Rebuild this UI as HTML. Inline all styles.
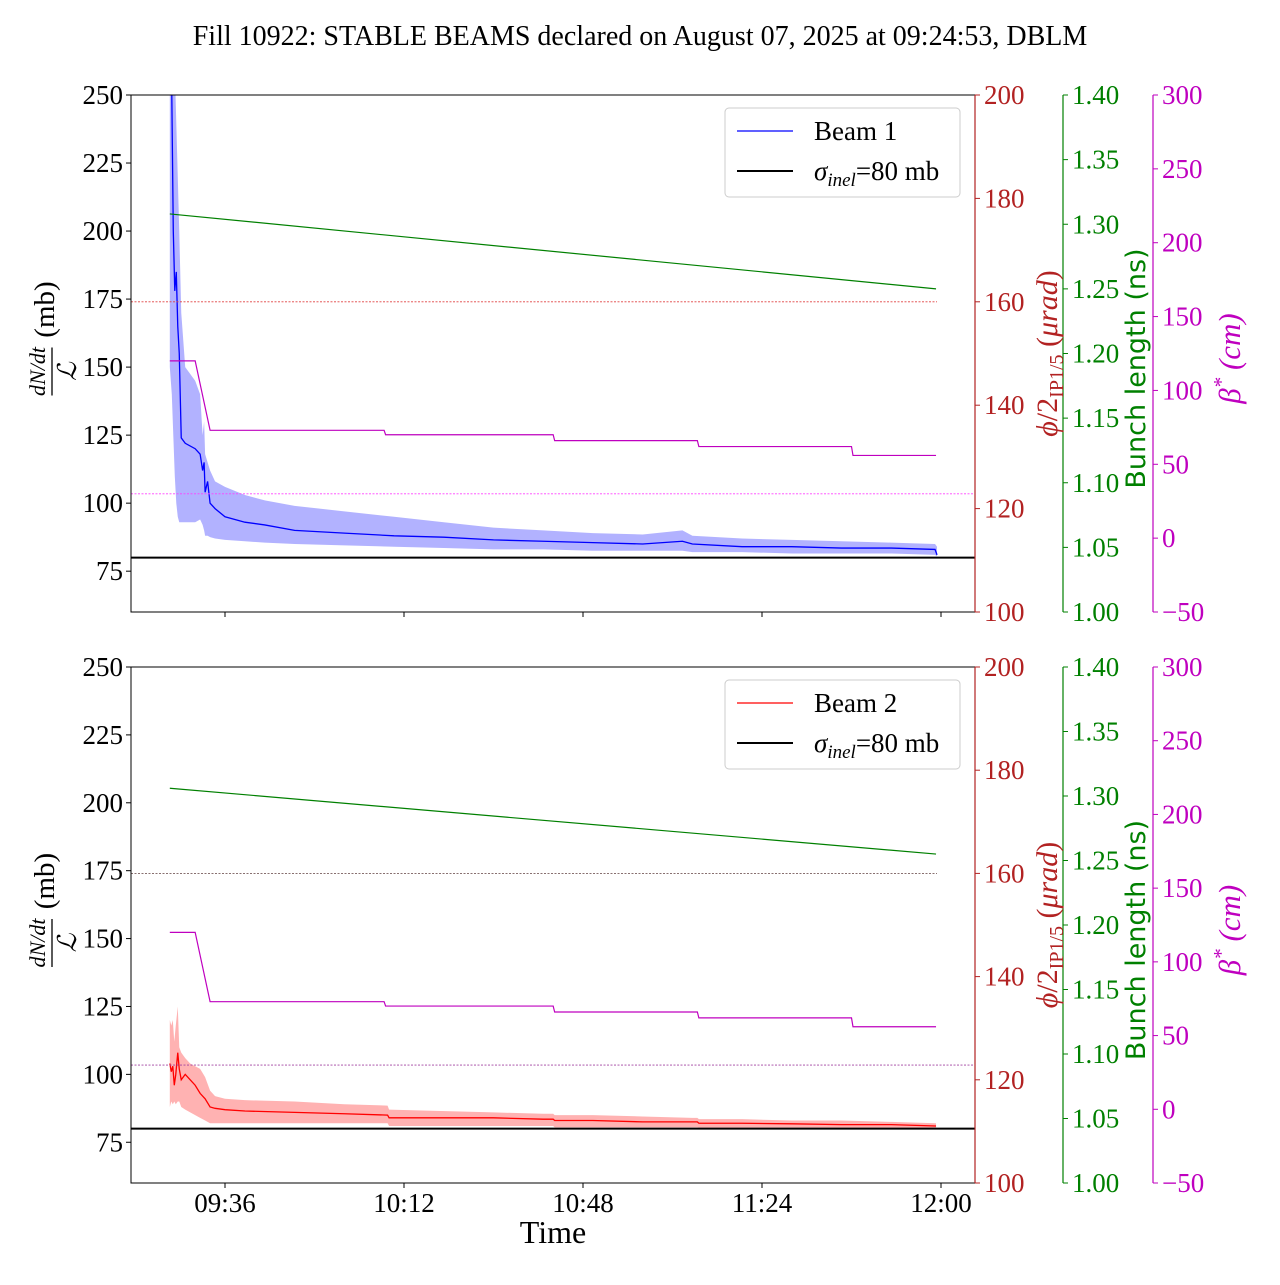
<!DOCTYPE html>
<html><head><meta charset="utf-8"><style>
body{margin:0;background:#fff}
svg text{font-family:"Liberation Serif",serif}
</style></head><body>
<svg id="chart" width="1280" height="1280" xmlns="http://www.w3.org/2000/svg">
<text x="640" y="45" font-size="28" text-anchor="middle">Fill 10922: STABLE BEAMS declared on August 07, 2025 at 09:24:53, DBLM</text>
</svg>
<script>
// time in minutes after 09:00
const xTickMinutes = [36, 72, 108, 144, 180];
const xTickLabels = ["09:36", "10:12", "10:48", "11:24", "12:00"];
const leftTicks = [75, 100, 125, 150, 175, 200, 225, 250];
const redTicks = [100, 120, 140, 160, 180, 200];
const greenTicks = [1.00, 1.05, 1.10, 1.15, 1.20, 1.25, 1.30, 1.35, 1.40];
const magTicks = [-50, 0, 50, 100, 150, 200, 250, 300];

const b1Times = [24.9,25.3,25.6,25.9,26.2,26.5,26.8,27.2,28,30,31,31.5,31.8,32,32.5,33,34,36,40,44,50,60,70,80,90,100,110,120,128,130,140,150,160,170,178.8,179.2];
const b1Center = [260,250,200,178,185,165,155,124,122,120,118,112,115,104,108,100,98,95,93,92,90,89,88,87.5,86.5,86,85.5,85,86,85,84,84,83.5,83.5,83,81];
const b1Lower = [150,140,125,110,100,95,93,93,93,93,94,92,90,88,88,87.5,87,86.5,86,85.5,85,84.5,84,83.5,83,83,82.5,82.5,82.5,82,82,81.5,81.5,81.5,81,80.5];
const b1Upper = [300,300,300,260,240,220,200,170,150,145,140,125,130,118,115,112,108,106,103,101,99,97,95,93,91,90,89,88.5,90,88,87,86.5,86,85.5,85,84];

const b2Times = [24.9,25.2,25.5,25.8,26.1,26.5,26.8,27.2,28,29,30,31,32,33,34,36,40,50,60,68.7,69,90,100,102,102.3,110,120,130,131,131.3,140,150,160,170,179];
const b2Center = [104,101,103,96,100,108,102,98,100,98,96,93,91,88,87.5,87,86.5,86,85.5,85,84,84,83.5,83.5,83,83,82.5,82.5,82.5,82,82,81.8,81.5,81.5,81];
const b2Lower = [88,90,89,90,89,90,90,88,87,86,85,84,83,82,82,82,82,82,82,82,81,81,81,81,80.5,80.5,80.5,80.5,80.5,80.3,80.3,80.3,80.3,80.3,80.2];
const b2Upper = [120,118,120,112,118,125,110,108,106,104,103,102,99,94,92,91,90.5,90,89,88.5,87,86,85.5,85.5,85,85,84.5,84,84,83.5,83.5,83,83,82.5,82];

const bunchTimes = [24.9, 179];
const bunch1 = [1.308, 1.250];
const bunch2 = [1.306, 1.255];
const betaTimes = [24.9,30,33,68,68.3,102,102.3,131,131.3,162,162.3,179];
const betaValues = [120,120,73,73,70,70,66,66,62,62,56,56];
const crossingAngle = 160;
const betaRef = 30;
const sigmaInel = 80;

const NS = "http://www.w3.org/2000/svg";
const svg = document.getElementById("chart");
function mk(tag, attrs, parent){const e=document.createElementNS(NS,tag);for(const k in attrs)e.setAttribute(k,attrs[k]);(parent||svg).appendChild(e);return e;}
const X0=131, X1=975;
function xs(t){return 225+(t-36)*179/36;}

function panel(top, bottom, beam, times, center, lower, upper, color, fillc, bunch, refColor, showX){
  const g=mk("g",{});
  
  
  const H=bottom-top;
  const yL=v=>bottom-(v-60)/190*H;
  const yR=v=>bottom-(v-100)/100*H;
  const yG=v=>bottom-(v-1.0)/0.4*H;
  const yM=v=>bottom-(v+50)/350*H;
  let d="M"+times.map((t,i)=>xs(t)+","+yL(upper[i])).join("L");
  for(let i=times.length-1;i>=0;i--) d+="L"+xs(times[i])+","+yL(lower[i]);
  const clip=mk("clipPath",{id:"clip"+beam},g); mk("rect",{x:X0,y:top,width:X1-X0,height:H},clip);
  const cg=mk("g",{"clip-path":"url(#clip"+beam+")"},g);
  const band=mk("path",{d:d+"Z",fill:fillc,"fill-opacity":"0.3",stroke:"none"},cg);
  
  
  const ln=mk("polyline",{points:times.map((t,i)=>xs(t)+","+yL(center[i])).join(" "),fill:"none",stroke:color,"stroke-width":"1.3"},cg);
  
  
  const sl=mk("line",{x1:X0,x2:X1,y1:yL(sigmaInel),y2:yL(sigmaInel),stroke:"#000","stroke-width":"2"},cg);
  
  
  const rl=mk("line",{x1:X0,x2:937,y1:yR(crossingAngle),y2:yR(crossingAngle),stroke:refColor,"stroke-width":"0.8","stroke-dasharray":"2,1.5"},cg);
  
  
  const ml=mk("line",{x1:X0,x2:X1,y1:yM(betaRef),y2:yM(betaRef),stroke:beam==1?"#ff40ff":"#a040a0","stroke-width":"0.8","stroke-dasharray":"2,1.5"},cg);
  
  
  const gl=mk("polyline",{points:bunchTimes.map((t,i)=>xs(t)+","+yG(bunch[i])).join(" "),fill:"none",stroke:"#008000","stroke-width":"1.2"},cg);
  
  
  const bl=mk("polyline",{points:betaTimes.map((t,i)=>xs(t)+","+yM(betaValues[i])).join(" "),fill:"none",stroke:"#bf00bf","stroke-width":"1.2"},cg);
  
  
  mk("rect",{x:X0,y:top,width:X1-X0,height:H,fill:"none",stroke:"#000","stroke-width":"1"},g);
  leftTicks.forEach(v=>{mk("line",{x1:X0-5,x2:X0,y1:yL(v),y2:yL(v),stroke:"#000"},g);
    const t=mk("text",{x:X0-8,y:yL(v)+9,"font-size":"27","text-anchor":"end"},g);t.textContent=v;
    
    });
  xTickMinutes.forEach((m,i)=>{mk("line",{x1:xs(m),x2:xs(m),y1:bottom,y2:bottom+5,stroke:"#000"},g);
    if(showX){const t=mk("text",{x:xs(m),y:bottom+29,"font-size":"27","text-anchor":"middle"},g);t.textContent=xTickLabels[i];
      
      }});
  function raxis(x,ticks,fn,col,fmt,name){
    mk("line",{x1:x,x2:x,y1:top,y2:bottom,stroke:col,"stroke-width":"1.2"},g);
    ticks.forEach(v=>{mk("line",{x1:x,x2:x+5,y1:fn(v),y2:fn(v),stroke:col},g);
      const t=mk("text",{x:x+9,y:fn(v)+9,"font-size":"27",fill:col},g);t.textContent=fmt(v);
      
      });
  }
  raxis(975,redTicks,yR,"#b22222",v=>v,"crossing-angle");
  raxis(1063,greenTicks,yG,"#008000",v=>v.toFixed(2),"bunch-length");
  raxis(1153,magTicks,yM,"#bf00bf",v=>v<0?"\u2212"+(-v):v,"beta-star");
  const cy=(top+bottom)/2;
  const ll=mk("g",{transform:"translate(52,"+(cy+8)+") rotate(-90)"},g);
  
  
  let t=mk("text",{x:"-10",y:"-7","font-size":"22","font-style":"italic","text-anchor":"middle"},ll);t.textContent="dN/dt";
  mk("line",{x1:-34,x2:14,y1:0,y2:0,stroke:"#000","stroke-width":"1.3"},ll);
  t=mk("text",{x:"-10",y:"24","font-size":"26","font-style":"italic","text-anchor":"middle"},ll);t.textContent="\u2112";
  t=mk("text",{x:"52",y:"2","font-size":"29","text-anchor":"middle"},ll);t.textContent="(mb)";
  const rlab=mk("text",{transform:"translate(1057,"+(cy)+") rotate(-90)","font-size":"30",fill:"#b22222","text-anchor":"middle"},g);
  rlab.innerHTML='<tspan font-style="italic">\u03d5</tspan>/2<tspan font-size="20" dy="6">IP1/5</tspan><tspan dy="-6"> (</tspan><tspan font-style="italic">\u03bcrad</tspan>)';
  
  
  const glab=mk("text",{transform:"translate(1145,"+(cy+15)+") rotate(-90)","font-size":"27",fill:"#008000","text-anchor":"middle",style:"font-family:'DejaVu Sans',sans-serif"},g);
  glab.textContent="Bunch length (ns)";
  
  
  const mlab=mk("text",{transform:"translate(1240,"+(cy+5)+") rotate(-90)","font-size":"31",fill:"#bf00bf","text-anchor":"middle","font-style":"italic"},g);
  mlab.innerHTML='\u03b2<tspan dy="-12" font-size="21">*</tspan><tspan dy="12"> (cm)</tspan>';
  
  
  const lg=mk("g",{},g);
  
  
  const ly=top+13;
  mk("rect",{x:725,y:ly,width:235,height:89,rx:4,fill:"#fff",stroke:"#ccc"},lg);
  mk("line",{x1:737,x2:793,y1:ly+23,y2:ly+23,stroke:color,"stroke-width":"1.3"},lg);
  t=mk("text",{x:814,y:ly+32,"font-size":"27"},lg);t.textContent="Beam "+beam;
  
  
  mk("line",{x1:737,x2:793,y1:ly+63,y2:ly+63,stroke:"#000","stroke-width":"2"},lg);
  t=mk("text",{x:814,y:ly+72,"font-size":"27"},lg);
  t.innerHTML='<tspan font-style="italic">\u03c3</tspan><tspan font-style="italic" font-size="19" dy="6">inel</tspan><tspan dy="-6">=80 mb</tspan>';
  
  
}
panel(95,612,1,b1Times,b1Center,b1Lower,b1Upper,"#0000ff","#0000ff",bunch1,"#e04040",false);
panel(667,1183,2,b2Times,b2Center,b2Lower,b2Upper,"#ff0000","#ff0000",bunch2,"#604040",true);
const xl=mk("text",{x:553,y:1243,"font-size":"32","text-anchor":"middle"});
xl.textContent="Time";


</script>
</body></html>
